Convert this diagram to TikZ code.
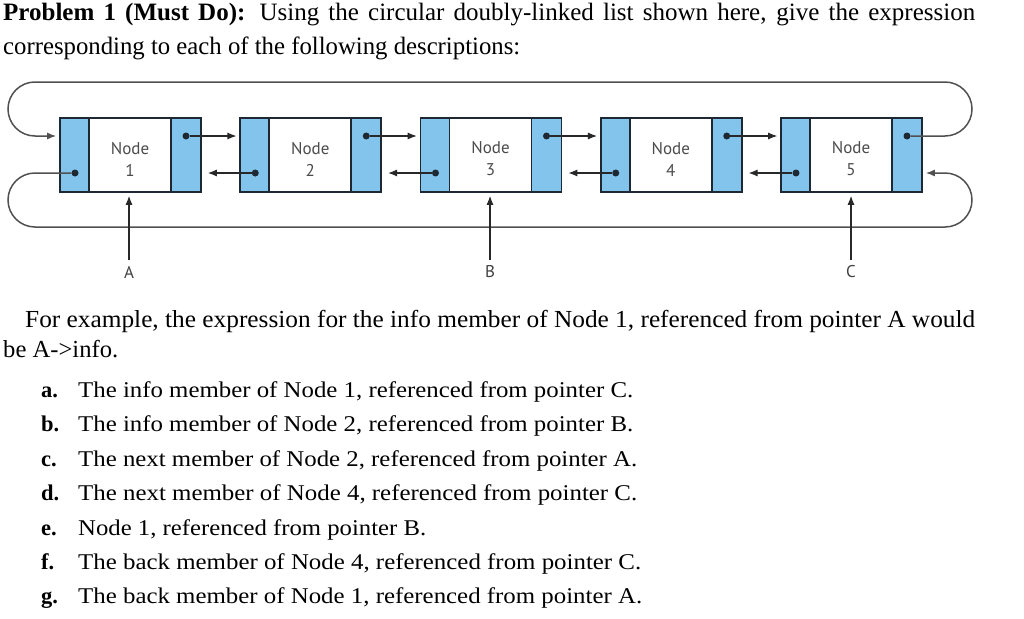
\documentclass[tikz,border=0pt]{standalone}
\usepackage{fontspec}
\usepackage{graphicx}
\setmainfont{Liberation Serif}
\newfontfamily\diagfont{PT Sans}
\usetikzlibrary{arrows.meta}
\definecolor{cellblue}{RGB}{130,196,236}
\definecolor{boxline}{RGB}{30,40,50}
\definecolor{loopline}{RGB}{80,80,80}
\definecolor{arrowline}{RGB}{40,40,40}
\newcommand{\wline}[2]{\resizebox{#1}{\height}{#2}}
\begin{document}
\begin{tikzpicture}[x=1pt,y=-1pt,
  cellbox/.style={draw=boxline, line width=1.6pt, minimum height=74pt, inner sep=0pt},
  bluecell/.style={cellbox, fill=cellblue},
  infocell/.style={cellbox, fill=white},
  dot/.style={circle, fill=boxline, inner sep=0pt, minimum size=7pt},
  ptrarrow/.style={draw=arrowline, line width=1.1pt, -{Latex[length=9pt,width=7pt]}},
  looparrow/.style={draw=loopline, line width=1.5pt, rounded corners=27pt, -{Latex[length=9pt,width=7pt]}},
  nodetext/.style={font=\diagfont\fontsize{17}{22}\selectfont, text=black!70, align=center, inner sep=0pt},
  ptrlabel/.style={font=\diagfont\fontsize{17}{18}\selectfont, text=black!75, inner sep=6pt},
  txt/.style={anchor=base west, inner sep=0pt},
  titlefont/.style={font=\fontsize{25}{28}\selectfont},
  exfont/.style={font=\fontsize{24.5}{28}\selectfont},
  listfont/.style={font=\fontsize{22.5}{25}\selectfont}
]
\useasboundingbox (0,0) rectangle (1024,618);

% ---- header text ----
\node[txt, titlefont] (title1) at (3,21) {\makebox[972pt][s]{\textbf{Problem 1 (Must Do):} Using the circular doubly-linked list shown here, give the expression}};
\node[txt, titlefont] (title2) at (3,54) {\wline{517pt}{corresponding to each of the following descriptions:}};

% ---- list nodes ----
\foreach \i in {1,...,5} {
  \pgfmathsetmacro{\xo}{60+180.25*(\i-1)}
  \node[bluecell, minimum width=29pt] (L\i) at (\xo+14.5,155) {};
  \node[infocell, minimum width=82pt] (I\i) at (\xo+70,155) {};
  \node[bluecell, minimum width=30pt] (R\i) at (\xo+126,155) {};
  \node[nodetext] (T\i) at (\xo+70,159) {Node\\\i};
  \node[dot] (N\i) at (\xo+126,136) {};
  \node[dot] (B\i) at (\xo+15,173) {};
}

% next and back pointers
\foreach \i/\j in {1/2,2/3,3/4,4/5} {
  \draw[ptrarrow, shorten >=3pt] (N\i) -- (N\i -| L\j.west);
  \draw[ptrarrow, shorten >=6pt] (B\j) -- (B\j -| R\i.east);
}

% circular links
\coordinate (ctr1) at (972,136);
\coordinate (ctr2) at (972,82);
\coordinate (ctl1) at (8,82);
\coordinate (ctl2) at (8,136);
\draw[looparrow, shorten >=3pt] (N5) -- (ctr1) -- (ctr2) -- (ctl1) -- (ctl2) -- (ctl2 -| L1.west);

\coordinate (cbl1) at (8,173);
\coordinate (cbl2) at (8,227);
\coordinate (cbr1) at (972,227);
\coordinate (cbr2) at (972,173);
\draw[looparrow, shorten >=3pt] (B1) -- (cbl1) -- (cbl2) -- (cbr1) -- (cbr2) -- (cbr2 -| R5.east);

% external pointers
\node[ptrlabel] (PA) at (129,272) {A};
\node[ptrlabel] (PB) at (490,272) {B};
\node[ptrlabel] (PC) at (851,272) {C};
\draw[ptrarrow, shorten >=3pt] (PA.north) -- (PA.north |- I1.south);
\draw[ptrarrow, shorten >=3pt] (PB.north) -- (PB.north |- I3.south);
\draw[ptrarrow, shorten >=3pt] (PC.north) -- (PC.north |- I5.south);

% ---- example text ----
\node[txt, exfont] (ex1) at (25,327) {\wline{950pt}{For example, the expression for the info member of Node 1, referenced from pointer A would}};
\node[txt, exfont] (ex2) at (3,357) {\wline{115pt}{be A-{}>info.}};

% ---- questions ----
\node[txt, listfont] (la) at (41,397) {\textbf{a.}};
\node[txt, listfont] (qa) at (78,397) {\wline{555pt}{The info member of Node 1, referenced from pointer C.}};
\node[txt, listfont] (lb) at (41,431) {\textbf{b.}};
\node[txt, listfont] (qb) at (78,431) {\wline{555pt}{The info member of Node 2, referenced from pointer B.}};
\node[txt, listfont] (lc) at (41,466) {\textbf{c.}};
\node[txt, listfont] (qc) at (78,466) {\wline{559pt}{The next member of Node 2, referenced from pointer A.}};
\node[txt, listfont] (ld) at (41,500) {\textbf{d.}};
\node[txt, listfont] (qd) at (78,500) {\wline{559pt}{The next member of Node 4, referenced from pointer C.}};
\node[txt, listfont] (le) at (41,535) {\textbf{e.}};
\node[txt, listfont] (qe) at (78,535) {\wline{348pt}{Node 1, referenced from pointer B.}};
\node[txt, listfont] (lf) at (41,569) {\textbf{f.}};
\node[txt, listfont] (qf) at (78,569) {\wline{563pt}{The back member of Node 4, referenced from pointer C.}};
\node[txt, listfont] (lg) at (41,603) {\textbf{g.}};
\node[txt, listfont] (qg) at (78,603) {\wline{564pt}{The back member of Node 1, referenced from pointer A.}};
\end{tikzpicture}
\end{document}
